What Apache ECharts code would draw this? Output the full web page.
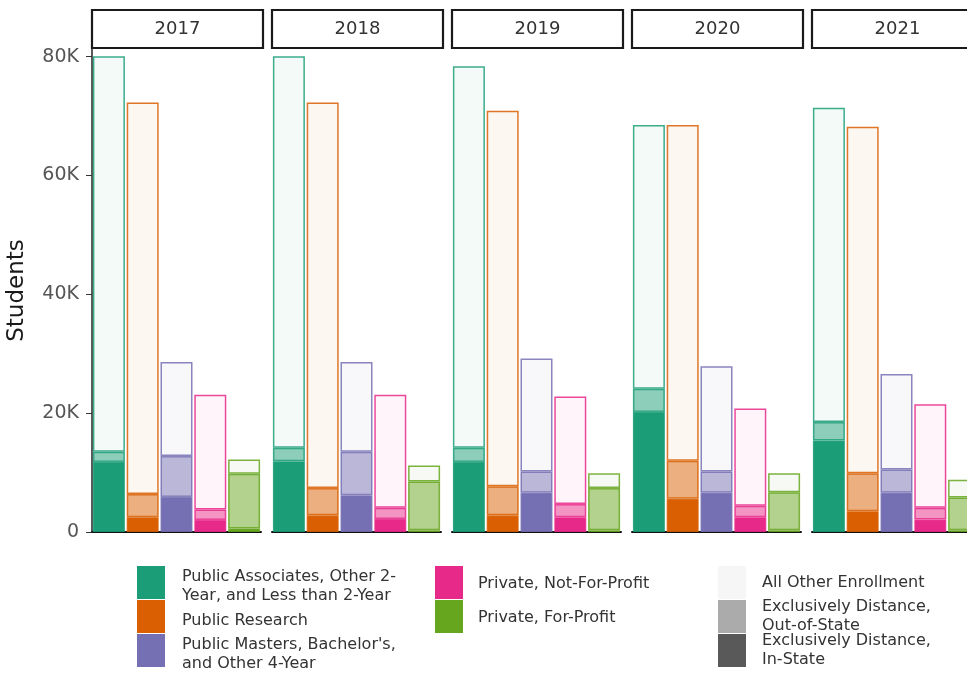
<!DOCTYPE html>
<html><head><meta charset="utf-8">
<script src="https://cdn.jsdelivr.net/npm/echarts@6/dist/echarts.min.js"></script>
<style>html,body{margin:0;padding:0;background:#fff}#c{width:967px;height:674px}</style>
</head><body><div id="c"></div>
<script>
const years = ['2017', '2018', '2019', '2020', '2021'];
const sectors = [
  'Public Associates, Other 2-\nYear, and Less than 2-Year',
  'Public Research',
  "Public Masters, Bachelor's,\nand Other 4-Year",
  'Private, Not-For-Profit',
  'Private, For-Profit'
];
const sectorColors = ['#1B9E77', '#D95F02', '#7570B3', '#E7298A', '#66A61E'];
const layers = ['Exclusively Distance,\nIn-State', 'Exclusively Distance,\nOut-of-State', 'All Other Enrollment'];
const layerAlpha = [1, 0.5, 0.05];
const layerLegendColors = ['#595959', '#ABABAB', '#F6F6F6'];

// thousands of students, [year][sector]
const inState = [
  [11.8, 2.5, 5.9, 2.0, 0.6],
  [11.9, 2.8, 6.2, 2.2, 0.3],
  [11.8, 2.8, 6.6, 2.5, 0.3],
  [20.2, 5.6, 6.6, 2.5, 0.3],
  [15.4, 3.5, 6.6, 2.1, 0.3]
];
const outOfState = [
  [1.7, 3.9, 6.9, 1.8, 9.2],
  [2.3, 4.6, 7.3, 1.9, 8.2],
  [2.4, 4.9, 3.6, 2.2, 7.1],
  [3.9, 6.4, 3.6, 1.9, 6.4],
  [3.1, 6.4, 3.9, 2.0, 5.5]
];
const allOther = [
  [66.6, 65.9, 15.8, 19.3, 2.4],
  [65.9, 64.9, 15.1, 19.0, 2.7],
  [64.2, 63.2, 19.0, 18.1, 2.5],
  [44.4, 56.5, 17.7, 16.4, 3.2],
  [52.9, 58.3, 16.1, 17.4, 3.0]
];
const yTicks = [0, 20000, 40000, 60000, 80000];
const yMax = 81300;

const FONT = '"DejaVu Sans", sans-serif';
const PANEL_LEFT = 92, PANEL_STEP = 180, PANEL_W = 169, STRIP_W = 171, PANEL_TOP = 49, PANEL_H = 483;

function rgba(hex, a) {
  const r = parseInt(hex.slice(1, 3), 16), g = parseInt(hex.slice(3, 5), 16), b = parseInt(hex.slice(5, 7), 16);
  return `rgba(${r},${g},${b},${a})`;
}

const layerData = [inState, outOfState, allOther];
const grids = [], xAxes = [], yAxes = [], series = [], graphics = [];

years.forEach((yr, i) => {
  const left = PANEL_LEFT + PANEL_STEP * i;
  grids.push({left: left, top: PANEL_TOP, width: PANEL_W, height: PANEL_H, containLabel: false, outerBoundsMode: 'none'});
  xAxes.push({
    type: 'category', gridIndex: i, data: sectors,
    axisLine: {show: true, lineStyle: {color: '#111', width: 2}},
    axisTick: {show: false}, axisLabel: {show: false}, splitLine: {show: false}
  });
  yAxes.push({
    type: 'value', gridIndex: i, min: 0, max: yMax,
    show: i === 0,
    name: i === 0 ? 'Students' : '',
    nameLocation: 'middle', nameGap: 63,
    nameTextStyle: {fontSize: 23, color: '#1a1a1a', fontFamily: FONT},
    axisLine: {show: i === 0, lineStyle: {color: '#222', width: 1.5}},
    axisTick: {show: i === 0, length: 6, lineStyle: {color: '#333'}, customValues: yTicks},
    axisLabel: {show: i === 0, customValues: yTicks, margin: 13, fontSize: 19, color: '#555', fontFamily: FONT,
      formatter: v => v === 0 ? '0' : (v / 1000) + 'K'},
    splitLine: {show: false}
  });
  layerData.forEach((arr, l) => {
    series.push({
      type: 'bar', name: yr + ' ' + layers[l], xAxisIndex: i, yAxisIndex: i, stack: 's' + i,
      barWidth: 32, silent: true,
      data: sectors.map((s, k) => ({
        value: arr[i][k] * 1000,
        itemStyle: {color: rgba(sectorColors[k], layerAlpha[l]), borderColor: rgba(sectorColors[k], 0.85), borderWidth: 1.5}
      }))
    });
  });
  graphics.push({
    type: 'rect', shape: {x: left, y: 10, width: STRIP_W, height: 38},
    style: {fill: '#fff', stroke: '#1a1a1a', lineWidth: 2.2}, silent: true
  });
  graphics.push({
    type: 'text', x: left + STRIP_W / 2, y: 29,
    style: {text: yr, fill: '#333', font: '18px ' + FONT, textAlign: 'center', textVerticalAlign: 'middle'}, silent: true
  });
});

// legend-only series
sectors.forEach((s, k) => series.push({type: 'line', name: s, data: [], xAxisIndex: 0, yAxisIndex: 0,
  itemStyle: {color: sectorColors[k]}, lineStyle: {color: sectorColors[k]}}));
const legendLayerOrder = [2, 1, 0];
legendLayerOrder.forEach(l => series.push({type: 'line', name: layers[l], data: [], xAxisIndex: 0, yAxisIndex: 0,
  itemStyle: {color: layerLegendColors[l]}, lineStyle: {color: layerLegendColors[l]}}));

const legendNames = [sectors[0], sectors[1], sectors[2], sectors[3], sectors[4],
  layers[2], layers[1], layers[0]];
const legendCol = [0, 0, 0, 1, 1, 2, 2, 2];
const legendRow = [0, 1, 2, 0, 1, 0, 1, 2];
const colLeft = [137, 435, 718];
const colTextPad = [17, 15, 16];
const colTextDrop = [4, 1, 0];   // text sits slightly below the key centre
const rowTop = [566, 600, 634];
const KEY_W = 28, KEY_H = 33, LINE_H = 19;

const legends = legendNames.map((nm, j) => {
  const c = legendCol[j];
  const drop = colTextDrop[c];
  const boxH = KEY_H + 2 * drop;
  // key drawn at top of a taller box so that the label centre drops by `drop`
  const icon = drop > 0
    ? `path://M0,0H${KEY_W}V${KEY_H}H0Z M0,${boxH}L0.001,${boxH}`
    : 'rect';
  const nLines = nm.split('\n').length;
  const h = Math.max(boxH, nLines * LINE_H);
  return {
    orient: 'vertical', left: colLeft[c], top: rowTop[legendRow[j]] - (h - boxH) / 2, padding: 0,
    icon: icon, itemWidth: KEY_W, itemHeight: boxH, itemGap: 0, selectedMode: false,
    data: [nm],
    textStyle: {fontSize: 16, lineHeight: LINE_H, color: '#333', fontFamily: FONT,
      padding: [0, 0, 0, colTextPad[c] - 5]}
  };
});

const option = {
  animation: false,
  backgroundColor: '#fff',
  grid: grids, xAxis: xAxes, yAxis: yAxes, series: series,
  legend: legends,
  graphic: graphics
};
const chart = echarts.init(document.getElementById('c'), null, {renderer: 'canvas'});
chart.setOption(option);
</script></body></html>
